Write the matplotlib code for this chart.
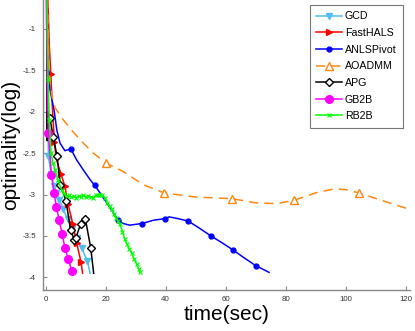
import matplotlib
matplotlib.use("Agg")
import matplotlib.pyplot as plt

plt.rcParams['font.family'] = ['Liberation Sans', 'DejaVu Sans']

# ---- data ----
gcd_x = [0.3, 0.6, 0.9, 1.8, 2.7, 3.6, 4.5, 5.9, 7.3, 8.8, 10.3, 12.0, 13.9, 14.8]
gcd_y = [-0.5, -1.8, -2.54, -2.75, -2.9, -2.98, -3.06, -3.18, -3.3, -3.42, -3.52, -3.65, -3.80, -3.95]

hals_x = [0.6, 1.2, 1.7, 2.3, 2.9, 3.5, 4.2, 5.1, 6.4, 7.5, 9.0, 10.3, 11.8, 12.3]
hals_y = [-0.5, -1.2, -1.54, -2.0, -2.36, -2.57, -2.65, -2.75, -2.9, -3.12, -3.35, -3.58, -3.82, -3.95]

anls_x = [0.3, 0.6, 1.4, 2.8, 3.7, 4.8, 6.4, 8.4, 10.3, 12.5, 14.8, 16.4, 20, 24.2, 25.9, 28,
          32, 36, 39.8, 41.2, 44, 47.5, 51, 55.1, 58.7, 62.5, 66, 70.1, 74.5]
anls_y = [-0.5, -1.3, -1.73, -1.98, -2.22, -2.38, -2.47, -2.45, -2.58, -2.7, -2.82, -2.89, -3.08,
          -3.31, -3.35, -3.37, -3.35, -3.31, -3.29, -3.27, -3.29, -3.32, -3.4, -3.5, -3.58, -3.67,
          -3.76, -3.86, -3.94]

aoa_x = [0.5, 1.1, 2.0, 3.1, 5.5, 8.1, 12.3, 15.9, 20.1, 25.8, 32.5, 39.5, 50, 62.2, 70, 77,
         82.8, 90, 96.4, 100, 104.5, 112, 121.5]
aoa_y = [-0.5, -1.5, -1.8, -1.95, -2.08, -2.2, -2.37, -2.5, -2.62, -2.72, -2.88, -2.98, -3.03,
         -3.05, -3.1, -3.11, -3.07, -2.98, -2.93, -2.94, -2.98, -3.07, -3.18]

apg_x = [0.3, 0.4, 0.5, 0.6, 1.4, 2.5, 3.8, 4.9, 6.8, 8.3, 9.6, 10.1, 11.7, 13.2, 15.0, 16.0]
apg_y = [-0.5, -1.8, -2.35, -2.0, -2.08, -2.3, -2.54, -2.88, -3.08, -3.43, -3.55, -3.52, -3.35,
         -3.29, -3.64, -3.95]

gb_x = [0.2, 0.5, 0.9, 1.9, 2.8, 3.6, 4.5, 5.5, 6.4, 7.5, 8.7]
gb_y = [-0.5, -1.6, -2.26, -2.76, -2.98, -3.15, -3.31, -3.48, -3.64, -3.78, -3.92]

rb_x = [0.4, 0.8, 1.2, 1.8, 2.4, 3.1, 4.0, 5.3, 6.2, 7.0, 7.8, 8.6, 9.4, 10.2, 11.0, 11.8, 12.6,
        13.4, 14.2, 15.0, 15.9, 16.7, 17.4, 18.1, 18.9, 19.8, 20.6, 21.3, 22.0, 22.7, 23.4, 24.1,
        24.8, 25.6, 26.4, 27.1, 27.9, 28.7, 29.5, 30.3, 31.0, 31.4]
rb_y = [-0.5, -1.6, -2.1, -2.5, -2.62, -2.70, -2.82, -2.94, -2.99, -3.02, -3.01, -3.03, -3.02,
        -3.04, -3.02, -3.03, -3.01, -3.03, -3.02, -3.03, -3.04, -3.01, -3.0, -3.0, -3.01, -3.04,
        -3.1, -3.14, -3.18, -3.24, -3.28, -3.32, -3.36, -3.45, -3.54, -3.6, -3.66, -3.71, -3.78,
        -3.84, -3.9, -3.94]

labels = ['GCD', 'FastHALS', 'ANLSPivot', 'AOADMM', 'APG', 'GB2B', 'RB2B']
x_ticks = [0, 20, 40, 60, 80, 100, 120]
y_ticks = [-4, -3.5, -3, -2.5, -2, -1.5, -1]
y_ticklabels = ['-4', '-3.5', '-3', '-2.5', '-2', '-1.5', '-1']

# ---- figure ----
fig = plt.figure(figsize=(4.15, 3.31), dpi=100)
ax = fig.add_axes([43/415, 41/331, (410-43)/415, 290/331])

lw = 1.1
ax.plot(gcd_x, gcd_y, color='#4DBEEE', lw=lw, marker='v', ms=5, mfc='#4DBEEE', mec='#4DBEEE',
        markevery=list(range(2, 13)), label=labels[0])
ax.plot(hals_x, hals_y, color='#FF0000', lw=lw, marker='>', ms=5, mfc='#FF0000', mec='#FF0000',
        markevery=[2, 4, 7, 8, 9, 10, 11, 12], label=labels[1])
ax.plot(anls_x, anls_y, color='#0000FF', lw=lw, marker='o', ms=3.5, mfc='#0000FF', mec='#0000FF',
        markevery=[7, 11, 13, 16, 18, 21, 23, 25, 27], label=labels[2])
ax.plot(aoa_x, aoa_y, color='#FF8811', lw=lw, ls=(0, (6, 4)), marker='^', ms=6, mfc='white',
        mec='#FF8811', mew=1.0, markevery=[8, 11, 13, 16, 20], label=labels[3])
ax.plot(apg_x, apg_y, color='black', lw=lw, marker='D', ms=3.6, mfc='white', mec='black', mew=1.0,
        markevery=list(range(4, 15)), label=labels[4])
ax.plot(gb_x, gb_y, color='#FF00FF', lw=lw, marker='o', ms=5.5, mfc='#FF00FF', mec='#FF00FF',
        markevery=list(range(2, 11)), label=labels[5])
ax.plot(rb_x, rb_y, color='#00FF00', lw=lw, marker='x', ms=3, mec='#00FF00', mew=0.8,
        label=labels[6])

ax.set_xlim(-0.9, 121.5)
ax.set_ylim(-4.153, -0.65)
ax.set_xticks(x_ticks)
ax.set_yticks(y_ticks)
ax.set_yticklabels(y_ticklabels)
for s in ['top', 'right']:
    ax.spines[s].set_visible(False)
for s in ['left', 'bottom']:
    ax.spines[s].set_color('#888888')
    ax.spines[s].set_linewidth(1.0)
ax.tick_params(direction='in', length=3, width=0.8, color='#888888', labelsize=5.7,
               labelcolor='#333333')
ax.tick_params(axis='y', pad=5)
ax.tick_params(axis='x', pad=4)

ax.set_xlabel('time(sec)', fontsize=15, labelpad=2)
ax.set_ylabel('optimality(log)', fontsize=15, labelpad=2)

leg = ax.legend(loc='upper right', bbox_to_anchor=(403/415, 1 - 5/331), bbox_transform=fig.transFigure,
                fontsize=7.7, frameon=True, fancybox=False, edgecolor='#555555',
                handlelength=2.4, handletextpad=0.3, labelspacing=0.62, borderpad=0.6,
                borderaxespad=0)
leg.get_frame().set_linewidth(0.8)

fig.savefig('out.png', dpi=100)
